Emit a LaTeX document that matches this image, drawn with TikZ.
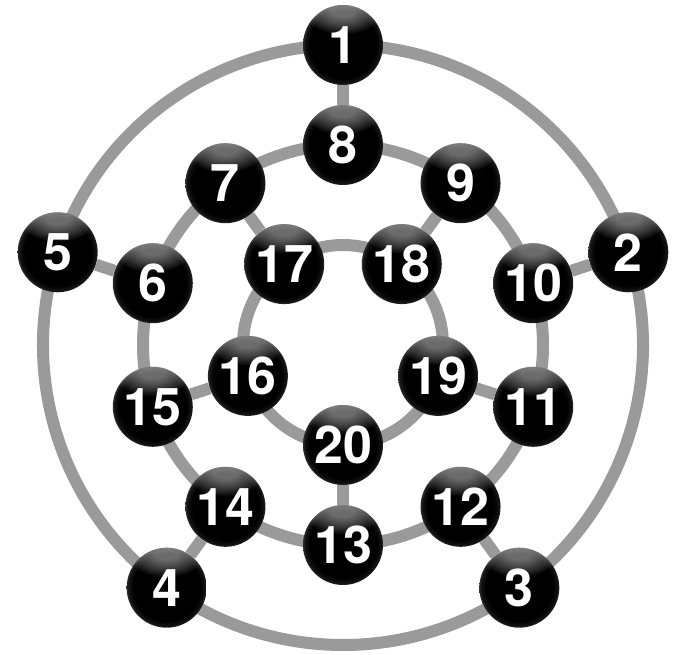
\documentclass[tikz,border=0pt]{standalone}
\usepackage{fontspec}
\newfontfamily\ballfont{TeX Gyre Heros}
\usetikzlibrary{backgrounds}
\definecolor{ringgray}{HTML}{9A9A9A}
% shading radius 25bp corresponds to the path's edge
\pgfdeclareradialshading{ballrim}{\pgfpoint{0bp}{0bp}}{color(0bp)=(black); color(21bp)=(black); color(24bp)=(black!92); color(25bp)=(black!82); color(50bp)=(black!82)}
\begin{document}
\begin{tikzpicture}[x=1pt,y=1pt,
  ring/.style={draw=ringgray, line width=12pt},
  ball/.style={circle, inner sep=0pt, minimum size=80pt, shading=ballrim, shade,
    text=white, font=\ballfont\bfseries\fontsize{52}{52}\selectfont,
    path picture={\foreach \k in {0,...,9}{
        \fill[white, opacity=0.055] ([yshift=33pt]path picture bounding box.center)
          ellipse[x radius={38pt-2.8pt*\k}, y radius={22pt-1.8pt*\k}];}}}]
\useasboundingbox (-343,-309) rectangle (334,345);
\coordinate (c) at (0,0);
% outer ring
\node[ball] (n1) at (90:300) {1};
\node[ball] (n2) at (18:300) {2};
\node[ball] (n3) at (-54:300) {3};
\node[ball] (n4) at (-126:300) {4};
\node[ball] (n5) at (162:300) {5};
% middle ring
\node[ball] (n8) at (90:200) {8};
\node[ball] (n9) at (54:200) {9};
\node[ball] (n10) at (18:200) {10};
\node[ball] (n11) at (-18:200) {11};
\node[ball] (n12) at (-54:200) {12};
\node[ball] (n13) at (-90:200) {13};
\node[ball] (n14) at (-126:200) {14};
\node[ball] (n15) at (-162:200) {15};
\node[ball] (n6) at (162:200) {6};
\node[ball] (n7) at (126:200) {7};
% inner ring
\node[ball] (n17) at (126:100) {17};
\node[ball] (n18) at (54:100) {18};
\node[ball] (n19) at (-18:100) {19};
\node[ball] (n20) at (-90:100) {20};
\node[ball] (n16) at (-162:100) {16};
\begin{scope}[on background layer]
  % outer cycle
  \draw[ring] (n1.center) arc[start angle=90, end angle=18, radius=300pt];
  \draw[ring] (n2.center) arc[start angle=18, end angle=-54, radius=300pt];
  \draw[ring] (n3.center) arc[start angle=-54, end angle=-126, radius=300pt];
  \draw[ring] (n4.center) arc[start angle=-126, end angle=-198, radius=300pt];
  \draw[ring] (n5.center) arc[start angle=162, end angle=90, radius=300pt];
  % middle cycle
  \draw[ring] (n8.center) arc[start angle=90, end angle=54, radius=200pt];
  \draw[ring] (n9.center) arc[start angle=54, end angle=18, radius=200pt];
  \draw[ring] (n10.center) arc[start angle=18, end angle=-18, radius=200pt];
  \draw[ring] (n11.center) arc[start angle=-18, end angle=-54, radius=200pt];
  \draw[ring] (n12.center) arc[start angle=-54, end angle=-90, radius=200pt];
  \draw[ring] (n13.center) arc[start angle=-90, end angle=-126, radius=200pt];
  \draw[ring] (n14.center) arc[start angle=-126, end angle=-162, radius=200pt];
  \draw[ring] (n15.center) arc[start angle=-162, end angle=-198, radius=200pt];
  \draw[ring] (n6.center) arc[start angle=162, end angle=126, radius=200pt];
  \draw[ring] (n7.center) arc[start angle=126, end angle=90, radius=200pt];
  % inner cycle
  \draw[ring] (n18.center) arc[start angle=54, end angle=126, radius=100pt];
  \draw[ring] (n17.center) arc[start angle=126, end angle=198, radius=100pt];
  \draw[ring] (n16.center) arc[start angle=198, end angle=270, radius=100pt];
  \draw[ring] (n20.center) arc[start angle=270, end angle=342, radius=100pt];
  \draw[ring] (n19.center) arc[start angle=-18, end angle=54, radius=100pt];
  % spokes
  \draw[ring] (n1) -- (n8);
  \draw[ring] (n2) -- (n10);
  \draw[ring] (n3) -- (n12);
  \draw[ring] (n4) -- (n14);
  \draw[ring] (n5) -- (n6);
  \draw[ring] (n7) -- (n17);
  \draw[ring] (n9) -- (n18);
  \draw[ring] (n11) -- (n19);
  \draw[ring] (n13) -- (n20);
  \draw[ring] (n15) -- (n16);
\end{scope}
\end{tikzpicture}
\end{document}
